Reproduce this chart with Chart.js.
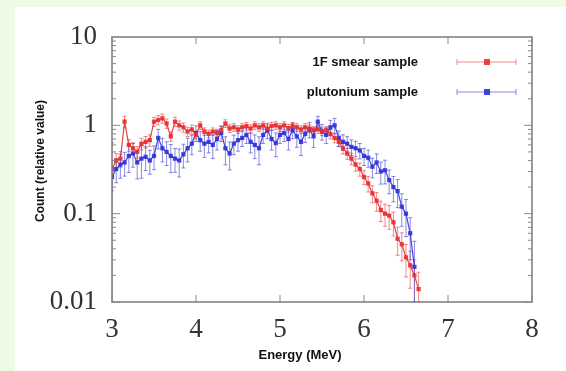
<!DOCTYPE html>
<html>
<head>
<meta charset="utf-8">
<script src="https://cdn.jsdelivr.net/npm/chart.js@4.4.1/dist/chart.umd.min.js"></script>
<style>
  html, body { margin: 0; padding: 0; background: #eefbe4; }
  #wrap { width: 566px; height: 371px; position: relative; }
</style>
</head>
<body>
<div id="wrap"><canvas id="c" width="566" height="371"></canvas></div>
<script>
// ---- data ----
const energy = [3.00,3.05,3.10,3.15,3.20,3.25,3.30,3.35,3.40,3.45,
  3.50,3.55,3.60,3.65,3.70,3.75,3.80,3.85,3.90,3.95,
  4.00,4.05,4.10,4.15,4.20,4.25,4.30,4.35,4.40,4.45,
  4.50,4.55,4.60,4.65,4.70,4.75,4.80,4.85,4.90,4.95,
  5.00,5.05,5.10,5.15,5.20,5.25,5.30,5.35,5.40,5.45,
  5.50,5.55,5.60,5.65,5.70,5.75,5.80,5.85,5.90,5.95,
  6.00,6.05,6.10,6.15,6.20,6.25,6.30,6.35,6.40,6.45,
  6.50,6.55,6.60,6.65];

const smearCounts = [0.32,0.40,0.42,1.10,0.60,0.55,0.50,0.62,0.65,0.68,
  1.10,1.15,1.20,1.05,0.75,1.10,1.00,0.95,0.85,0.90,
  0.78,1.00,0.85,0.80,0.85,0.82,0.88,1.05,0.92,0.95,
  0.90,0.95,0.98,0.92,1.00,0.95,1.00,0.92,0.98,1.00,
  0.95,1.00,0.93,0.98,0.95,0.90,0.95,0.92,0.88,0.90,
  0.85,0.88,0.80,0.72,0.65,0.55,0.48,0.42,0.36,0.32,
  0.26,0.22,0.17,0.14,0.11,0.10,0.095,0.08,0.052,0.045,
  0.032,0.026,0.020,0.014];

const smearRelErr = [0.97,0.2,0.2,0.15,0.15,0.15,0.15,0.15,0.15,0.15,
  0.12,0.12,0.12,0.12,0.12,0.12,0.12,0.12,0.12,0.12,
  0.1,0.1,0.1,0.1,0.1,0.1,0.1,0.1,0.1,0.1,
  0.1,0.1,0.1,0.1,0.1,0.1,0.1,0.1,0.1,0.1,
  0.1,0.1,0.1,0.1,0.1,0.1,0.1,0.1,0.1,0.1,
  0.1,0.1,0.12,0.12,0.12,0.14,0.14,0.15,0.16,0.17,
  0.18,0.2,0.22,0.24,0.26,0.28,0.3,0.3,0.35,0.35,
  0.4,0.45,0.5,0.55];

const plutoniumCounts = [0.26,0.32,0.36,0.38,0.45,0.48,0.38,0.42,0.44,0.40,
  0.45,0.72,0.55,0.50,0.45,0.42,0.40,0.47,0.55,0.62,
  0.82,0.68,0.62,0.65,0.60,0.70,0.82,0.55,0.48,0.62,
  0.68,0.72,0.78,0.65,0.60,0.55,0.78,0.88,0.70,0.63,
  0.78,0.82,0.70,0.88,0.75,0.65,0.80,0.90,0.75,1.10,
  0.85,0.78,0.95,1.00,0.72,0.65,0.62,0.57,0.55,0.52,
  0.45,0.43,0.34,0.38,0.30,0.31,0.24,0.20,0.18,0.12,
  0.10,0.06,0.025];

const plutoniumRelErr = [0.3,0.3,0.3,0.3,0.35,0.3,0.35,0.4,0.3,0.3,
  0.3,0.25,0.3,0.3,0.35,0.3,0.35,0.3,0.3,0.25,
  0.2,0.25,0.3,0.25,0.3,0.25,0.2,0.35,0.35,0.25,
  0.25,0.2,0.2,0.25,0.3,0.35,0.2,0.2,0.25,0.3,
  0.2,0.2,0.25,0.2,0.25,0.3,0.2,0.2,0.25,0.15,
  0.2,0.2,0.2,0.2,0.2,0.2,0.2,0.2,0.2,0.2,
  0.22,0.22,0.25,0.25,0.28,0.3,0.3,0.32,0.35,0.4,
  0.45,0.5,0.95];

const seriesLabels = ['1F smear sample', 'plutonium sample'];
const xTickValues = [3, 4, 5, 6, 7, 8];
const yTickValues = [0.01, 0.1, 1, 10];
const yTickLabels = ['0.01', '0.1', '1', '10'];
const xTitle = 'Energy (MeV)';
const yTitle = 'Count (relative value)';

// ---- styles ----
const RED = 'rgba(232,44,44,0.9)';
const RED_LIGHT = 'rgba(232,60,60,0.6)';
const BLUE = 'rgba(48,48,215,0.9)';
const BLUE_LIGHT = 'rgba(60,60,215,0.6)';

function toPoints(vals) {
  return vals.map((v, i) => ({ x: energy[i], y: v }));
}

const errorBarPlugin = {
  id: 'errorBars',
  beforeDatasetsDraw(chart) {
    const ctx = chart.ctx;
    const xs = chart.scales.x, ys = chart.scales.y;
    const area = chart.chartArea;
    ctx.save();
    ctx.beginPath();
    ctx.rect(area.left, area.top, area.right - area.left, area.bottom - area.top);
    ctx.clip();
    chart.data.datasets.forEach((ds) => {
      ctx.strokeStyle = ds.errColor;
      ctx.lineWidth = 1;
      ds.data.forEach((p, i) => {
        const e = ds.relErr[i];
        const lo = Math.max(p.y * (1 - e), ys.min);
        const hi = Math.min(p.y * (1 + e), ys.max);
        const px = xs.getPixelForValue(p.x);
        const y1 = ys.getPixelForValue(lo);
        const y2 = ys.getPixelForValue(hi);
        ctx.beginPath();
        ctx.moveTo(px, y1); ctx.lineTo(px, y2);
        ctx.moveTo(px - 2, y1); ctx.lineTo(px + 2, y1);
        ctx.moveTo(px - 2, y2); ctx.lineTo(px + 2, y2);
        ctx.stroke();
      });
    });
    ctx.restore();
  }
};

const framePlugin = {
  id: 'frame',
  beforeDraw(chart) {
    const ctx = chart.ctx;
    ctx.save();
    ctx.fillStyle = '#eefbe4';
    ctx.fillRect(0, 0, chart.width, chart.height);
    ctx.fillStyle = '#ffffff';
    ctx.fillRect(15, 7, chart.width - 15, chart.height - 7);
    ctx.restore();
  },
  afterDraw(chart) {
    const ctx = chart.ctx;
    const a = chart.chartArea;
    const xs = chart.scales.x, ys = chart.scales.y;
    ctx.save();
    ctx.strokeStyle = '#7a7a7a';
    ctx.lineWidth = 1.5;
    ctx.strokeRect(a.left, a.top, a.right - a.left, a.bottom - a.top);
    ctx.lineWidth = 1;
    ctx.strokeStyle = '#8a8a8a';
    ctx.beginPath();
    xTickValues.forEach(v => {
      const px = xs.getPixelForValue(v);
      ctx.moveTo(px, a.bottom); ctx.lineTo(px, a.bottom - 7);
      ctx.moveTo(px, a.top); ctx.lineTo(px, a.top + 7);
    });
    for (let d = 0; d < yTickValues.length - 1; d++) {
      for (let k = 1; k <= 9; k++) {
        const v = yTickValues[d] * k;
        const py = ys.getPixelForValue(v);
        const len = k === 1 ? 8 : 4;
        ctx.moveTo(a.left, py); ctx.lineTo(a.left + len, py);
        ctx.moveTo(a.right, py); ctx.lineTo(a.right - len, py);
      }
    }
    ctx.stroke();

    ctx.fillStyle = '#111';
    ctx.font = 'bold 13px "Liberation Sans", Arial, sans-serif';
    ctx.textAlign = 'center';
    ctx.textBaseline = 'middle';
    ctx.fillText(xTitle, 300, 355);
    ctx.save();
    ctx.translate(41, 161);
    ctx.rotate(-Math.PI / 2);
    ctx.font = 'bold 12px "Liberation Sans", Arial, sans-serif';
    ctx.fillText(yTitle, 0, 0);
    ctx.restore();

    const rows = [62, 92];
    chart.data.datasets.forEach((ds, i) => {
      const y = rows[i];
      ctx.fillStyle = '#111';
      ctx.font = 'bold 13px "Liberation Sans", Arial, sans-serif';
      ctx.textAlign = 'right';
      ctx.fillText(ds.label, 418, y);
      ctx.strokeStyle = ds.errColor;
      ctx.lineWidth = 1;
      ctx.beginPath();
      ctx.moveTo(457, y); ctx.lineTo(516, y);
      ctx.moveTo(457, y - 3); ctx.lineTo(457, y + 3);
      ctx.moveTo(516, y - 3); ctx.lineTo(516, y + 3);
      ctx.stroke();
      ctx.fillStyle = ds.borderColor;
      ctx.fillRect(484, y - 3, 6, 6);
    });
    ctx.restore();
  }
};

const chart = new Chart(document.getElementById('c'), {
  type: 'scatter',
  data: {
    datasets: [
      {
        label: seriesLabels[0],
        data: toPoints(smearCounts),
        relErr: smearRelErr,
        errColor: RED_LIGHT,
        borderColor: RED,
        backgroundColor: RED,
        showLine: true,
        borderWidth: 1.2,
        pointStyle: 'rect',
        pointRadius: 3,
        pointBorderWidth: 0,
        tension: 0
      },
      {
        label: seriesLabels[1],
        data: toPoints(plutoniumCounts),
        relErr: plutoniumRelErr,
        errColor: BLUE_LIGHT,
        borderColor: BLUE,
        backgroundColor: BLUE,
        showLine: true,
        borderWidth: 1.2,
        pointStyle: 'rect',
        pointRadius: 3,
        pointBorderWidth: 0,
        tension: 0
      }
    ]
  },
  options: {
    responsive: false,
    animation: false,
    layout: { padding: { left: 0, top: 37, right: 34, bottom: 0 } },
    plugins: { legend: { display: false }, tooltip: { enabled: false } },
    scales: {
      x: {
        type: 'linear',
        min: 3, max: 8,
        afterBuildTicks: s => { s.ticks = xTickValues.map(v => ({ value: v })); },
        afterFit: s => { s.height = 69; },
        grid: { display: false },
        border: { display: false },
        ticks: {
          color: '#333',
          font: { family: '"Liberation Serif", "Times New Roman", serif', size: 27 },
          padding: 4,
          maxRotation: 0,
          autoSkip: false,
          callback: v => String(v)
        }
      },
      y: {
        type: 'logarithmic',
        min: 0.01, max: 10,
        afterBuildTicks: s => { s.ticks = yTickValues.map(v => ({ value: v })); },
        afterFit: s => { s.width = 112; },
        grid: { display: false },
        border: { display: false },
        ticks: {
          color: '#333',
          font: { family: '"Liberation Serif", "Times New Roman", serif', size: 27 },
          padding: 7,
          autoSkip: false,
          callback: (v, i) => yTickLabels[i]
        }
      }
    }
  },
  plugins: [framePlugin, errorBarPlugin]
});
</script>
</body>
</html>
